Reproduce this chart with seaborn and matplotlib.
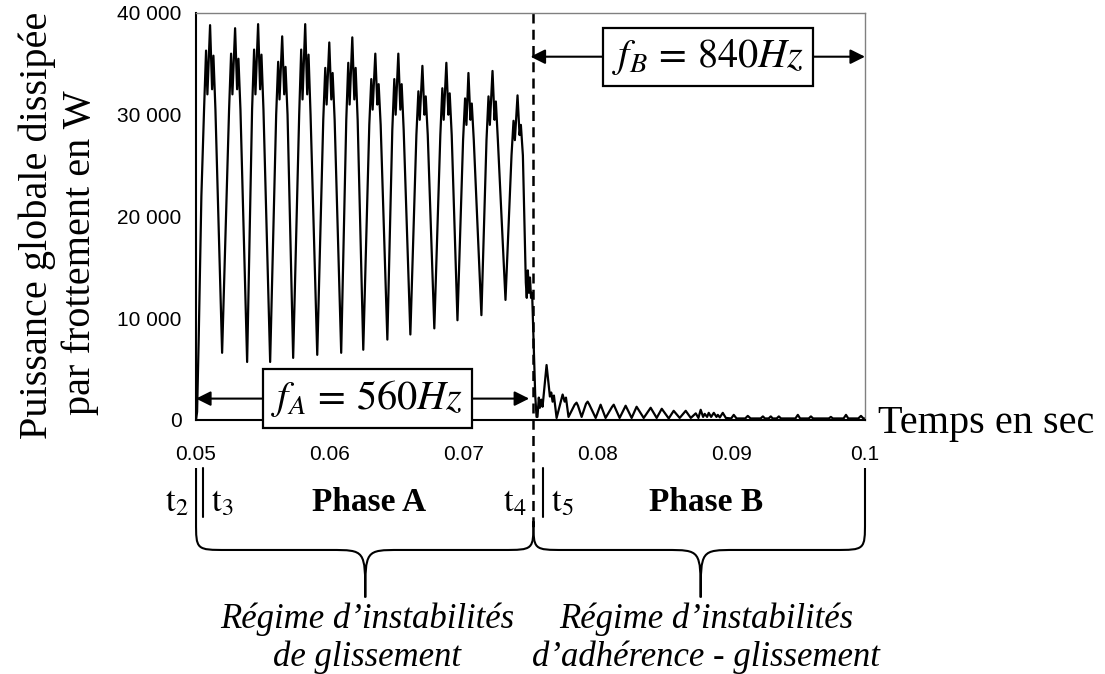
import matplotlib
matplotlib.use("Agg")
import matplotlib.pyplot as plt
from matplotlib.path import Path
from matplotlib.patches import PathPatch
import seaborn as sns
import pandas as pd

# friction power trace, time in ms, power in W
t_phase_a = [
    50.00, 50.08, 50.20, 50.40, 50.60, 50.75, 50.85, 51.05, 51.20, 51.30, 51.45,
    51.95, 52.47, 52.62, 52.72, 52.92, 53.07, 53.17, 53.32,
    53.82, 54.19, 54.34, 54.44, 54.64, 54.79, 54.89, 55.04,
    55.54, 55.99, 56.14, 56.24, 56.44, 56.59, 56.69, 56.84,
    57.26, 57.71, 57.86, 57.96, 58.16, 58.31, 58.41, 58.56,
    59.06, 59.51, 59.66, 59.76, 59.96, 60.11, 60.21, 60.36,
    60.85, 61.23, 61.38, 61.48, 61.68, 61.83, 61.93, 62.08,
    62.50, 62.95, 63.10, 63.20, 63.40, 63.55, 63.65, 63.80,
    64.30, 64.67, 64.82, 64.92, 65.12, 65.27, 65.37, 65.52,
    66.02, 66.47, 66.62, 66.72, 66.92, 67.07, 67.17, 67.32,
    67.81, 68.26, 68.41, 68.51, 68.71, 68.86, 68.96, 69.11,
    69.54, 69.96, 70.11, 70.21, 70.36, 70.51, 70.61, 70.76,
    71.33, 71.71, 71.86, 71.96, 72.16, 72.31, 72.41, 72.56,
    73.13, 73.58, 73.73, 73.83, 74.03, 74.18, 74.28, 74.43,
    74.65, 74.72, 74.80, 74.88, 74.96, 75.04, 75.12, 75.25, 75.35, 75.45,
]
p_phase_a = [
    0, 800, 8000, 22000, 30500, 36300, 32000, 38800, 32500, 35800, 30500,
    6600, 30500, 36000, 32000, 38500, 32500, 35500, 30500,
    5700, 30500, 36400, 32000, 38900, 32500, 35900, 30500,
    5700, 30000, 35200, 31500, 37700, 32000, 34700, 30000,
    6100, 30000, 36400, 31500, 38900, 32000, 35900, 30000,
    6400, 29500, 34600, 31000, 37100, 31500, 34100, 29500,
    6600, 29500, 35100, 31000, 37600, 31500, 34600, 29500,
    6900, 29000, 33500, 30500, 36000, 31000, 33000, 29000,
    7900, 28500, 33500, 30000, 36000, 30500, 33000, 28500,
    8400, 28000, 32300, 29500, 34800, 30000, 31800, 28000,
    9000, 28000, 32600, 29500, 35100, 30000, 32100, 28000,
    9800, 27500, 31600, 29000, 34100, 29500, 31100, 27500,
    10300, 27500, 31800, 29000, 34300, 29500, 31300, 27500,
    11800, 26000, 29400, 27500, 31900, 28000, 29000, 26000,
    13500, 12000, 14700, 12500, 14000, 12000, 12500, 7000, 2500, 300,
]
t_phase_b = [
    75.52, 75.62, 75.70, 75.80, 75.90, 76.20, 76.45, 76.55, 76.65, 76.75, 76.95,
    77.40, 77.55, 77.65, 77.84, 78.30, 78.44, 78.55, 78.82, 79.15, 79.27, 79.40, 79.87,
    80.24, 80.61, 81.10, 81.22, 81.66, 82.11, 82.56, 82.93, 83.46, 83.98, 84.43, 84.81,
    85.33, 85.70, 86.15, 86.60, 86.98, 87.35, 87.55, 87.72, 87.90, 88.02, 88.20, 88.32,
    88.50, 88.70, 88.90, 89.00, 89.15, 89.37, 89.60,
    90.00, 90.19, 90.40, 91.05, 91.24, 91.45, 92.20, 92.37, 92.52,
    92.80, 92.96, 93.10, 93.40, 93.56, 93.72, 94.80, 94.98, 95.15,
    95.80, 95.96, 96.12, 97.30, 97.45, 97.60, 98.40, 98.58, 98.75,
    99.50, 99.70, 99.88, 100.00,
]
p_phase_b = [
    300, 2200, 1200, 2000, 1300, 5400, 2300, 2700, 1800, 2400, 200,
    2500, 1800, 2200, 300, 1500, 1700, 1400, 300, 1600, 1800, 1500, 200,
    1500, 200, 1300, 1500, 200, 1400, 200, 1300, 200, 1200, 200, 1100,
    150, 900, 200, 900, 200, 650, 200, 1000, 300, 600, 300, 700,
    300, 700, 300, 500, 250, 700, 200,
    150, 500, 150, 150, 400, 150, 150, 350, 150,
    150, 350, 150, 150, 350, 150, 150, 500, 150,
    150, 350, 150, 150, 300, 150, 150, 500, 150,
    150, 400, 150, 150,
]

x_ticks = [0.05, 0.06, 0.07, 0.08, 0.09, 0.1]
x_tick_labels = ["0.05", "0.06", "0.07", "0.08", "0.09", "0.1"]
y_ticks = [0, 10000, 20000, 30000, 40000]
y_tick_labels = ["0", "10 000", "20 000", "30 000", "40 000"]

t_start = 0.05
t_end = 0.1
t3 = 0.05052
t4 = 0.07522
t5 = 0.07597

sns.set_style("white")
plt.rcParams["font.family"] = ["Liberation Sans", "DejaVu Sans"]
plt.rcParams["mathtext.fontset"] = "stix"
for k in ["text.color", "axes.labelcolor", "xtick.color", "ytick.color"]:
    plt.rcParams[k] = "black"
serif = "Liberation Serif"

df = pd.DataFrame({
    "t": [v / 1000 for v in t_phase_a + t_phase_b],
    "p": p_phase_a + p_phase_b,
})

fig = plt.figure(figsize=(11.05, 6.74), dpi=100)
ax = fig.add_axes([0.1774, 0.3769, 0.6054, 0.6039])
sns.lineplot(data=df, x="t", y="p", ax=ax, color="black", lw=1.6,
             sort=False, estimator=None)

ax.set_xlim(t_start, t_end)
ax.set_ylim(0, 40000)
ax.set_xticks(x_ticks, x_tick_labels)
ax.set_yticks(y_ticks, y_tick_labels)
ax.tick_params(axis="x", direction="out", length=6, width=1.3, pad=12, labelsize=15)
ax.tick_params(axis="y", direction="inout", length=11, width=1.3, pad=5, labelsize=15)
ax.set_xlabel("")
ax.set_ylabel("")
for s in ["top", "right"]:
    ax.spines[s].set_color("#808080")
    ax.spines[s].set_linewidth(1.0)
for s in ["left", "bottom"]:
    ax.spines[s].set_color("black")
    ax.spines[s].set_linewidth(1.5)

# axis titles
fig.text(0.0335, 0.666, "Puissance globale dissipée", rotation=90, ha="center",
         va="center", fontsize=29, family=serif)
fig.text(0.0724, 0.6246, "par frottement en W", rotation=90, ha="center",
         va="center", fontsize=29, family=serif)
fig.text(0.7946, 0.3576, "Temps en sec", ha="left", va="baseline",
         fontsize=29, family=serif)

# phase boundary
xt = ax.get_xaxis_transform()
ax.plot([t4, t4], [1, -0.263], transform=xt, color="black", lw=1.8,
        ls=(0, (4, 2.5)), clip_on=False)

# frequency arrows with boxed labels
arrow = dict(arrowstyle="<|-|>", color="black", lw=1.5, mutation_scale=22,
             shrinkA=0, shrinkB=0)
box = dict(boxstyle="square,pad=0.22", fc="white", ec="black", lw=1.6)
ax.annotate("", xy=(t_start, 2100), xytext=(0.0749, 2100), arrowprops=arrow)
ax.text(0.0628, 2100, r"$f_A\,=\,560Hz$", ha="center", va="center",
        fontsize=29, bbox=box, zorder=5)
ax.annotate("", xy=(0.0750, 35700), xytext=(t_end, 35700), arrowprops=arrow)
ax.text(0.08825, 35700, r"$f_B\,=\,840Hz$", ha="center", va="center",
        fontsize=29, bbox=box, zorder=5)

# time markers under the axis
for x in [t3, t5]:
    ax.plot([x, x], [-0.118, -0.2383], transform=xt, color="black", lw=1.5,
            clip_on=False)

for x, lab in [(0.04858, r"$\mathrm{t}_2$"), (0.05195, r"$\mathrm{t}_3$"),
               (0.0738, r"$\mathrm{t}_4$"), (0.0774, r"$\mathrm{t}_5$")]:
    ax.text(x, -0.2236, lab, transform=xt, ha="center", va="baseline", fontsize=25)
ax.text(0.06295, -0.2236, "Phase A", transform=xt, ha="center", va="baseline",
        fontsize=24, fontweight="bold", family=serif)
ax.text(0.0881, -0.2236, "Phase B", transform=xt, ha="center", va="baseline",
        fontsize=24, fontweight="bold", family=serif)


def brace(x0, x1, xm, y0, y1, y_arm, y_tip, r_end, r_tip):
    # curly brace: starts at (x0, y0), ends at (x1, y1), tip at xm
    verts = [(x0, y0), (x0, y_arm + 0.07),
             (x0, y_arm), (x0, y_arm), (x0 + r_end, y_arm),
             (xm - r_tip, y_arm),
             (xm, y_arm), (xm, y_arm), (xm, y_tip),
             (xm, y_arm), (xm, y_arm), (xm + r_tip, y_arm),
             (x1 - r_end, y_arm),
             (x1, y_arm), (x1, y_arm), (x1, y_arm + 0.07),
             (x1, y1)]
    codes = [Path.MOVETO, Path.LINETO,
             Path.CURVE4, Path.CURVE4, Path.CURVE4,
             Path.LINETO,
             Path.CURVE4, Path.CURVE4, Path.CURVE4,
             Path.CURVE4, Path.CURVE4, Path.CURVE4,
             Path.LINETO,
             Path.CURVE4, Path.CURVE4, Path.CURVE4,
             Path.LINETO]
    ax.add_patch(PathPatch(Path(verts, codes), transform=xt, fc="none",
                           ec="black", lw=1.5, clip_on=False))


brace(t_start, t4, 0.06265, -0.118, -0.263, -0.3194, -0.436, 0.0023, 0.0026)
brace(t4, t_end, 0.08772, -0.263, -0.118, -0.3194, -0.436, 0.0023, 0.0026)

regime_a = ["Régime d’instabilités", "de glissement"]
regime_b = ["Régime d’instabilités", "d’adhérence - glissement"]
for x, lines in [(0.0628, regime_a), (0.0881, regime_b)]:
    for y, line in zip([-0.512, -0.604], lines):
        ax.text(x, y, line, transform=xt, ha="center", va="baseline",
                fontsize=25, style="italic", family=serif)

fig.savefig("out.png", dpi=100)
